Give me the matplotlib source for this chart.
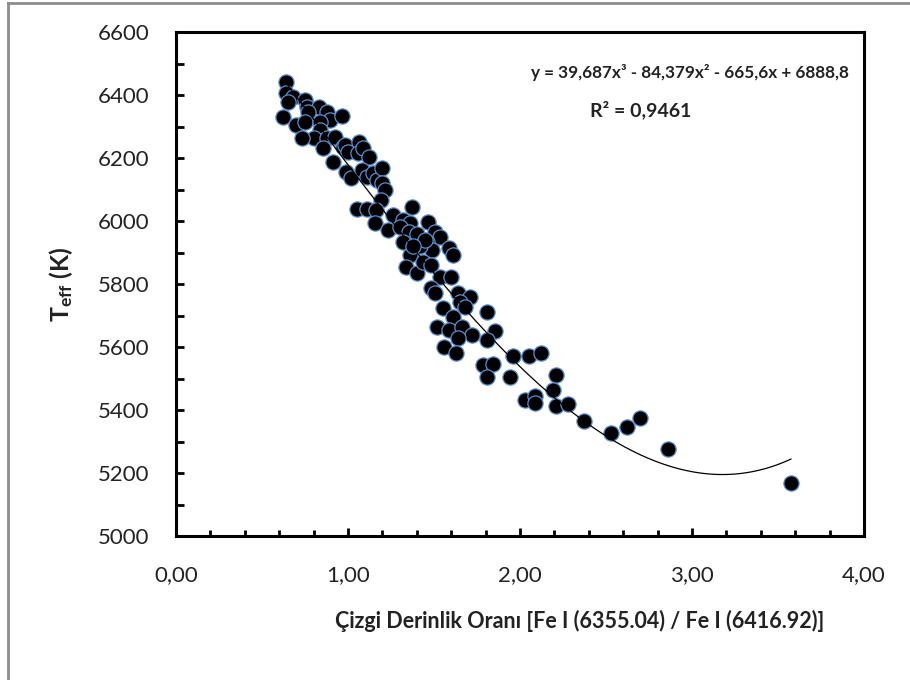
import numpy as np
import matplotlib
matplotlib.use("Agg")
import matplotlib.pyplot as plt
from matplotlib.lines import Line2D
from matplotlib.ticker import MultipleLocator, FuncFormatter

plt.rcParams['font.family'] = ['Lato', 'DejaVu Sans']
plt.rcParams['mathtext.fontset'] = 'custom'
plt.rcParams['mathtext.rm'] = 'Lato'
plt.rcParams['mathtext.bf'] = 'Lato:bold'
plt.rcParams['mathtext.it'] = 'Lato:italic'

# line depth ratio and effective temperature
ratio = [0.64, 0.64, 0.68, 0.65, 0.75, 0.76, 0.62, 0.83, 0.77, 0.88,
         0.895, 0.965, 0.70, 0.75, 0.84, 0.84, 0.80, 0.73, 0.88, 0.925,
         0.855, 0.97, 0.98, 1.00, 1.065, 1.06, 1.09, 1.12, 0.91, 0.99,
         1.02, 1.08, 1.11, 1.145, 1.17, 1.20, 1.20, 1.215, 1.19, 1.05,
         1.11, 1.16, 1.37, 1.26, 1.32, 1.157, 1.36, 1.465, 1.23, 1.30,
         1.355, 1.506, 1.535, 1.46, 1.49, 1.59, 1.61, 1.32, 1.36, 1.34,
         1.40, 1.435, 1.48, 1.535, 1.60, 1.48, 1.505, 1.64, 1.71, 1.65,
         1.55, 1.61, 1.68, 1.81, 1.52, 1.59, 1.66, 1.72, 1.64, 1.56,
         1.63, 1.855, 1.81, 1.785, 1.843, 1.81, 1.96, 2.05, 2.12, 1.94,
         2.21, 2.19, 2.03, 2.09, 2.09, 2.21, 2.28, 2.37, 2.53, 2.62,
         2.70, 2.86, 3.575, 1.40, 1.42, 1.45, 1.38]
teff = [6441, 6406, 6394, 6378, 6384, 6362, 6330, 6362, 6346, 6346,
        6321, 6333, 6305, 6314, 6314, 6289, 6264, 6264, 6264, 6267,
        6232, 6235, 6241, 6219, 6251, 6216, 6232, 6203, 6187, 6156,
        6137, 6162, 6140, 6152, 6130, 6168, 6121, 6098, 6067, 6038,
        6038, 6035, 6045, 6019, 6003, 5994, 5994, 5997, 5971, 5981,
        5965, 5965, 5949, 5933, 5908, 5914, 5892, 5933, 5892, 5854,
        5835, 5870, 5860, 5822, 5822, 5787, 5772, 5772, 5759, 5743,
        5724, 5695, 5727, 5711, 5664, 5654, 5664, 5638, 5629, 5600,
        5581, 5651, 5622, 5543, 5546, 5505, 5571, 5571, 5581, 5505,
        5511, 5463, 5432, 5444, 5422, 5413, 5419, 5365, 5327, 5346,
        5375, 5276, 5168, 5960, 5920, 5940, 5920]

# trendline coefficients as printed on the chart
coef = [39.687, -84.379, -665.6, 6888.8]
r2 = 0.9461

fig = plt.figure(figsize=(9.1, 6.8), dpi=100)
ax = fig.add_axes([176 / 910, 1 - 536 / 680, 688 / 910, 504 / 680])

# grey outer frame (only left and top visible)
fig.add_artist(Line2D([8 / 910, 8 / 910], [0, 1 - 3 / 680], color='#8c8c8c', lw=2))
fig.add_artist(Line2D([8 / 910, 1], [1 - 3 / 680, 1 - 3 / 680], color='#8c8c8c', lw=2))

xs = np.linspace(min(ratio), max(ratio), 200)
ax.plot(xs, np.polyval(coef, xs), color='black', lw=0.9, zorder=3)
ax.scatter(ratio, teff, s=120, color='black', edgecolors='#5b8fd0', linewidths=0.9, zorder=2)

ax.set_xlim(0, 4)
ax.set_ylim(5000, 6600)
ax.xaxis.set_major_locator(MultipleLocator(1))
ax.xaxis.set_minor_locator(MultipleLocator(0.2))
ax.yaxis.set_major_locator(MultipleLocator(200))
ax.yaxis.set_minor_locator(MultipleLocator(100))
ax.xaxis.set_major_formatter(FuncFormatter(lambda v, p: f"{v:.2f}".replace('.', ',')))
ax.yaxis.set_major_formatter(FuncFormatter(lambda v, p: f"{v:.0f}"))

for s in ax.spines.values():
    s.set_linewidth(2.2)
ax.tick_params(axis='both', which='major', direction='in', length=6, width=2,
               labelsize=16, labelcolor='#222222')
ax.tick_params(axis='x', which='major', pad=21)
ax.tick_params(axis='y', which='major', pad=19)
ax.tick_params(axis='x', which='minor', direction='in', length=4, width=2)
ax.tick_params(axis='y', which='minor', direction='in', length=6, width=2)
ax.tick_params(top=False, right=False, which='both')

ax.set_xlabel("Çizgi Derinlik Oranı [Fe I (6355.04) / Fe I (6416.92)]",
              fontsize=15.5, fontweight='bold', color='#222222')
ax.xaxis.set_label_coords(0.587, -0.147)
ax.set_ylabel(r"$\mathbf{T_{eff}}$ (K)", fontsize=18, fontweight='bold', color='#222222')
ax.yaxis.set_label_coords(-0.147, 0.5)

ax.text(2.99, 6470, "y = 39,687x³ - 84,379x² - 665,6x + 6888,8",
        ha='center', va='center', fontsize=12.3, fontweight='bold', color='#222222')
ax.text(2.70, 6352, f"R² = {r2}".replace('.', ','),
        ha='center', va='center', fontsize=14, fontweight='bold', color='#222222')

fig.savefig("out.png", dpi=100)
